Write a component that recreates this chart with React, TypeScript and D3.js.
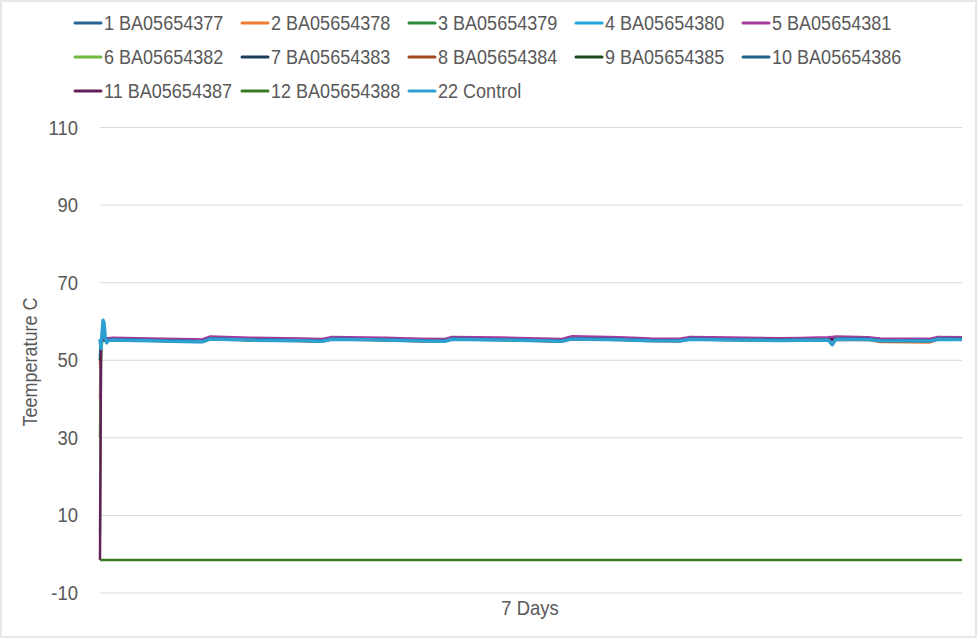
import React from "react";
import * as d3 from "d3";

const hours = [0, 0.2, 0.4, 0.6, 0.8, 1.0, 1.3, 1.6, 2.5, 9.7, 18.5, 19.9, 21.4, 29.2, 39.0, 43.3, 45.2, 55.5, 62.4, 67.2, 68.6, 78.0, 85.8, 90.0, 92.0, 101.3, 107.2, 113.0, 115.0, 122.8, 132.5, 136.4, 141.9, 142.7, 143.4, 149.7, 152.0, 161.8, 163.3, 168];

const s1 = [50, 54.5, 55.2, 55.4, 55.3, 55.2, 55.1, 55.2, 55.3, 55.2, 54.95, 54.9, 55.6, 55.35, 55.15, 55.05, 55.55, 55.35, 55.1, 55.05, 55.55, 55.4, 55.15, 55.05, 55.65, 55.45, 55.15, 55.1, 55.55, 55.4, 55.25, 55.3, 55.4, 55.4, 55.55, 55.5, 55.15, 55.1, 55.55, 55.5];
const s2 = [48, 54.2, 55.0, 55.2, 55.1, 55.0, 54.9, 55.0, 55.1, 55.0, 54.75, 54.7, 55.4, 55.15, 54.95, 54.85, 55.35, 55.15, 54.9, 54.85, 55.35, 55.2, 54.95, 54.85, 55.45, 55.25, 54.95, 54.9, 55.35, 55.2, 55.05, 55.1, 55.2, 55.2, 55.3, 55.25, 54.7, 54.6, 55.3, 55.3];
const s3 = [30, 53, 55.0, 55.3, 55.2, 55.1, 55.0, 55.1, 55.2, 55.1, 54.85, 54.8, 55.5, 55.25, 55.05, 54.95, 55.45, 55.25, 55.0, 54.95, 55.45, 55.3, 55.05, 54.95, 55.55, 55.35, 55.05, 55.0, 55.45, 55.3, 55.15, 55.2, 55.3, 55.3, 55.45, 55.4, 55.05, 55.0, 55.45, 55.4];
const s4 = [52, 54.8, 55.3, 55.5, 55.4, 55.3, 55.2, 55.3, 55.35, 55.2, 54.95, 54.9, 55.6, 55.35, 55.15, 55.05, 55.55, 55.35, 55.1, 55.05, 55.55, 55.4, 55.15, 55.05, 55.65, 55.45, 55.15, 55.1, 55.55, 55.4, 55.25, 55.3, 55.4, 55.4, 55.55, 55.5, 55.15, 55.1, 55.55, 55.5];
const s5 = [40, 54.5, 55.6, 55.9, 55.9, 55.8, 55.7, 55.7, 55.8, 55.6, 55.4, 55.35, 56.1, 55.8, 55.6, 55.5, 56.0, 55.8, 55.55, 55.5, 56.0, 55.85, 55.6, 55.5, 56.2, 55.9, 55.6, 55.55, 56.0, 55.85, 55.7, 55.75, 55.9, 56.0, 56.1, 55.9, 55.6, 55.55, 56.0, 55.9];
const s6 = [5, 50, 55.0, 55.3, 55.2, 55.1, 55.0, 55.1, 55.25, 55.1, 54.85, 54.8, 55.5, 55.25, 55.05, 54.95, 55.45, 55.25, 55.0, 54.95, 55.45, 55.3, 55.05, 54.95, 55.55, 55.35, 55.05, 55.0, 55.45, 55.3, 55.15, 55.2, 55.3, 55.3, 55.45, 55.4, 55.05, 55.0, 55.45, 55.4];
const s7 = [51, 54.6, 55.2, 55.4, 55.3, 55.2, 55.1, 55.2, 55.3, 55.15, 54.9, 54.85, 55.55, 55.3, 55.1, 55.0, 55.5, 55.3, 55.05, 55.0, 55.5, 55.35, 55.1, 55.0, 55.6, 55.4, 55.1, 55.05, 55.5, 55.35, 55.2, 55.25, 55.35, 55.35, 55.5, 55.45, 55.1, 55.05, 55.5, 55.45];
const s8 = [49, 54.3, 55.1, 55.3, 55.2, 55.1, 55.0, 55.1, 55.2, 55.05, 54.8, 54.75, 55.45, 55.2, 55.0, 54.9, 55.4, 55.2, 54.95, 54.9, 55.4, 55.25, 55.0, 54.9, 55.5, 55.3, 55.0, 54.95, 55.4, 55.25, 55.1, 55.15, 55.25, 55.25, 55.4, 55.35, 54.9, 54.85, 55.4, 55.35];
const s9 = [50, 54.4, 55.1, 55.3, 55.2, 55.1, 55.0, 55.1, 55.25, 55.1, 54.85, 54.8, 55.5, 55.25, 55.05, 54.95, 55.45, 55.25, 55.0, 54.95, 55.45, 55.3, 55.05, 54.95, 55.55, 55.35, 55.05, 55.0, 55.45, 55.3, 55.15, 55.2, 55.3, 55.3, 55.45, 55.4, 55.05, 55.0, 55.45, 55.4];
const s10 = [51, 54.7, 55.3, 55.5, 55.4, 55.3, 55.2, 55.3, 55.35, 55.2, 54.95, 54.9, 55.6, 55.35, 55.15, 55.05, 55.55, 55.35, 55.1, 55.05, 55.55, 55.4, 55.15, 55.05, 55.65, 55.45, 55.15, 55.1, 55.55, 55.4, 55.25, 55.3, 55.4, 55.4, 55.55, 55.5, 55.15, 55.1, 55.55, 55.5];
const s11 = [-1.5, 53, 55.3, 55.5, 55.4, 55.3, 55.2, 55.3, 55.3, 55.15, 54.9, 54.85, 55.55, 55.3, 55.1, 55.0, 55.5, 55.3, 55.05, 55.0, 55.5, 55.35, 55.1, 55.0, 55.6, 55.4, 55.1, 55.05, 55.5, 55.35, 55.2, 55.25, 55.35, 55.35, 55.5, 55.45, 55.1, 55.05, 55.5, 55.45];
const s12 = [-1.5, -1.5, -1.5, -1.5, -1.5, -1.5, -1.5, -1.5, -1.5, -1.5, -1.5, -1.5, -1.5, -1.5, -1.5, -1.5, -1.5, -1.5, -1.5, -1.5, -1.5, -1.5, -1.5, -1.5, -1.5, -1.5, -1.5, -1.5, -1.5, -1.5, -1.5, -1.5, -1.5, -1.5, -1.5, -1.5, -1.5, -1.5, -1.5, -1.5];
const control = [55.5, 53, 57, 60.3, 59.5, 56, 54.5, 55.1, 55.2, 55.05, 54.8, 54.75, 55.45, 55.2, 55.0, 54.9, 55.4, 55.2, 54.95, 54.9, 55.4, 55.25, 55.0, 54.9, 55.5, 55.3, 55.0, 54.95, 55.4, 55.25, 55.1, 55.15, 55.25, 54.0, 55.4, 55.35, 55.0, 54.95, 55.4, 55.35];

const seriesNames = ["1 BA05654377", "2 BA05654378", "3 BA05654379", "4 BA05654380", "5 BA05654381", "6 BA05654382", "7 BA05654383", "8 BA05654384", "9 BA05654385", "10 BA05654386", "11 BA05654387", "12 BA05654388", "22 Control"];
const seriesValues = [s1, s2, s3, s4, s5, s6, s7, s8, s9, s10, s11, s12, control];
const seriesColors = ["#2a6496", "#ed7d31", "#2a8a3a", "#21a7e0", "#a53a9f", "#72b83e", "#1d3d5c", "#a34a1e", "#1e4a20", "#1e6389", "#62205a", "#3c7a24", "#2d9fd0"];

const yTicks = [-10, 10, 30, 50, 70, 90, 110];
const xTitle = "7 Days";
const yTitle = "Teemperature C";

const W = 977;
const H = 639;
const FONT = "'Liberation Sans', Arial, sans-serif";
const TXT = "#595959";

export default function App() {
  const x = d3.scaleLinear().domain([0, 168]).range([100, 962]);
  const y = d3.scaleLinear().domain([-10, 110]).range([593, 127.5]);
  const line = d3
    .line<[number, number]>()
    .x((d) => x(d[0]))
    .y((d) => y(d[1]));

  const legendCols = [75, 242, 409, 576, 743];
  const legendRows = [23, 57, 91];

  return (
    <svg
      width={W}
      height={H}
      style={{ position: "absolute", left: 0, top: 0, background: "#fff" }}
      fontFamily={FONT}
    >
      <rect x={0} y={0} width={W} height={H} fill="#fff" />
      <rect x={1} y={1} width={975} height={636} fill="none" stroke="#d9d9d9" strokeWidth={1.2} />
      {yTicks.map((t) => (
        <g key={t}>
          <line x1={100} x2={962} y1={y(t)} y2={y(t)} stroke="#d9d9d9" strokeWidth={1} />
          <text
            transform={`translate(78,${y(t) + 7}) scale(0.9,1)`}
            textAnchor="end"
            fontSize={20.5}
            fill={TXT}
          >
            {t}
          </text>
        </g>
      ))}
      {seriesValues.map((vals, i) => (
        <path
          key={i}
          d={line(hours.map((h, j) => [h, vals[j]]) as [number, number][]) || ""}
          fill="none"
          stroke={seriesColors[i]}
          strokeWidth={i === 12 ? 3.5 : 2.5}
          strokeLinejoin="round"
        />
      ))}
      {seriesNames.map((n, i) => {
        const cx = legendCols[i % 5];
        const cy = legendRows[Math.floor(i / 5)];
        return (
          <g key={n}>
            <line x1={cx} x2={cx + 26} y1={cy} y2={cy} stroke={seriesColors[i]} strokeWidth={3} strokeLinecap="round" />
            <text transform={`translate(${cx + 29},${cy + 7}) scale(0.88,1)`} fontSize={20.5} fill={TXT}>
              {n}
            </text>
          </g>
        );
      })}
      <text transform={`translate(530,615) scale(0.9,1)`} textAnchor="middle" fontSize={20.5} fill={TXT}>
        {xTitle}
      </text>
      <text transform={`translate(37,362) rotate(-90) scale(0.9,1)`} textAnchor="middle" fontSize={20} fill={TXT}>
        {yTitle}
      </text>
    </svg>
  );
}
